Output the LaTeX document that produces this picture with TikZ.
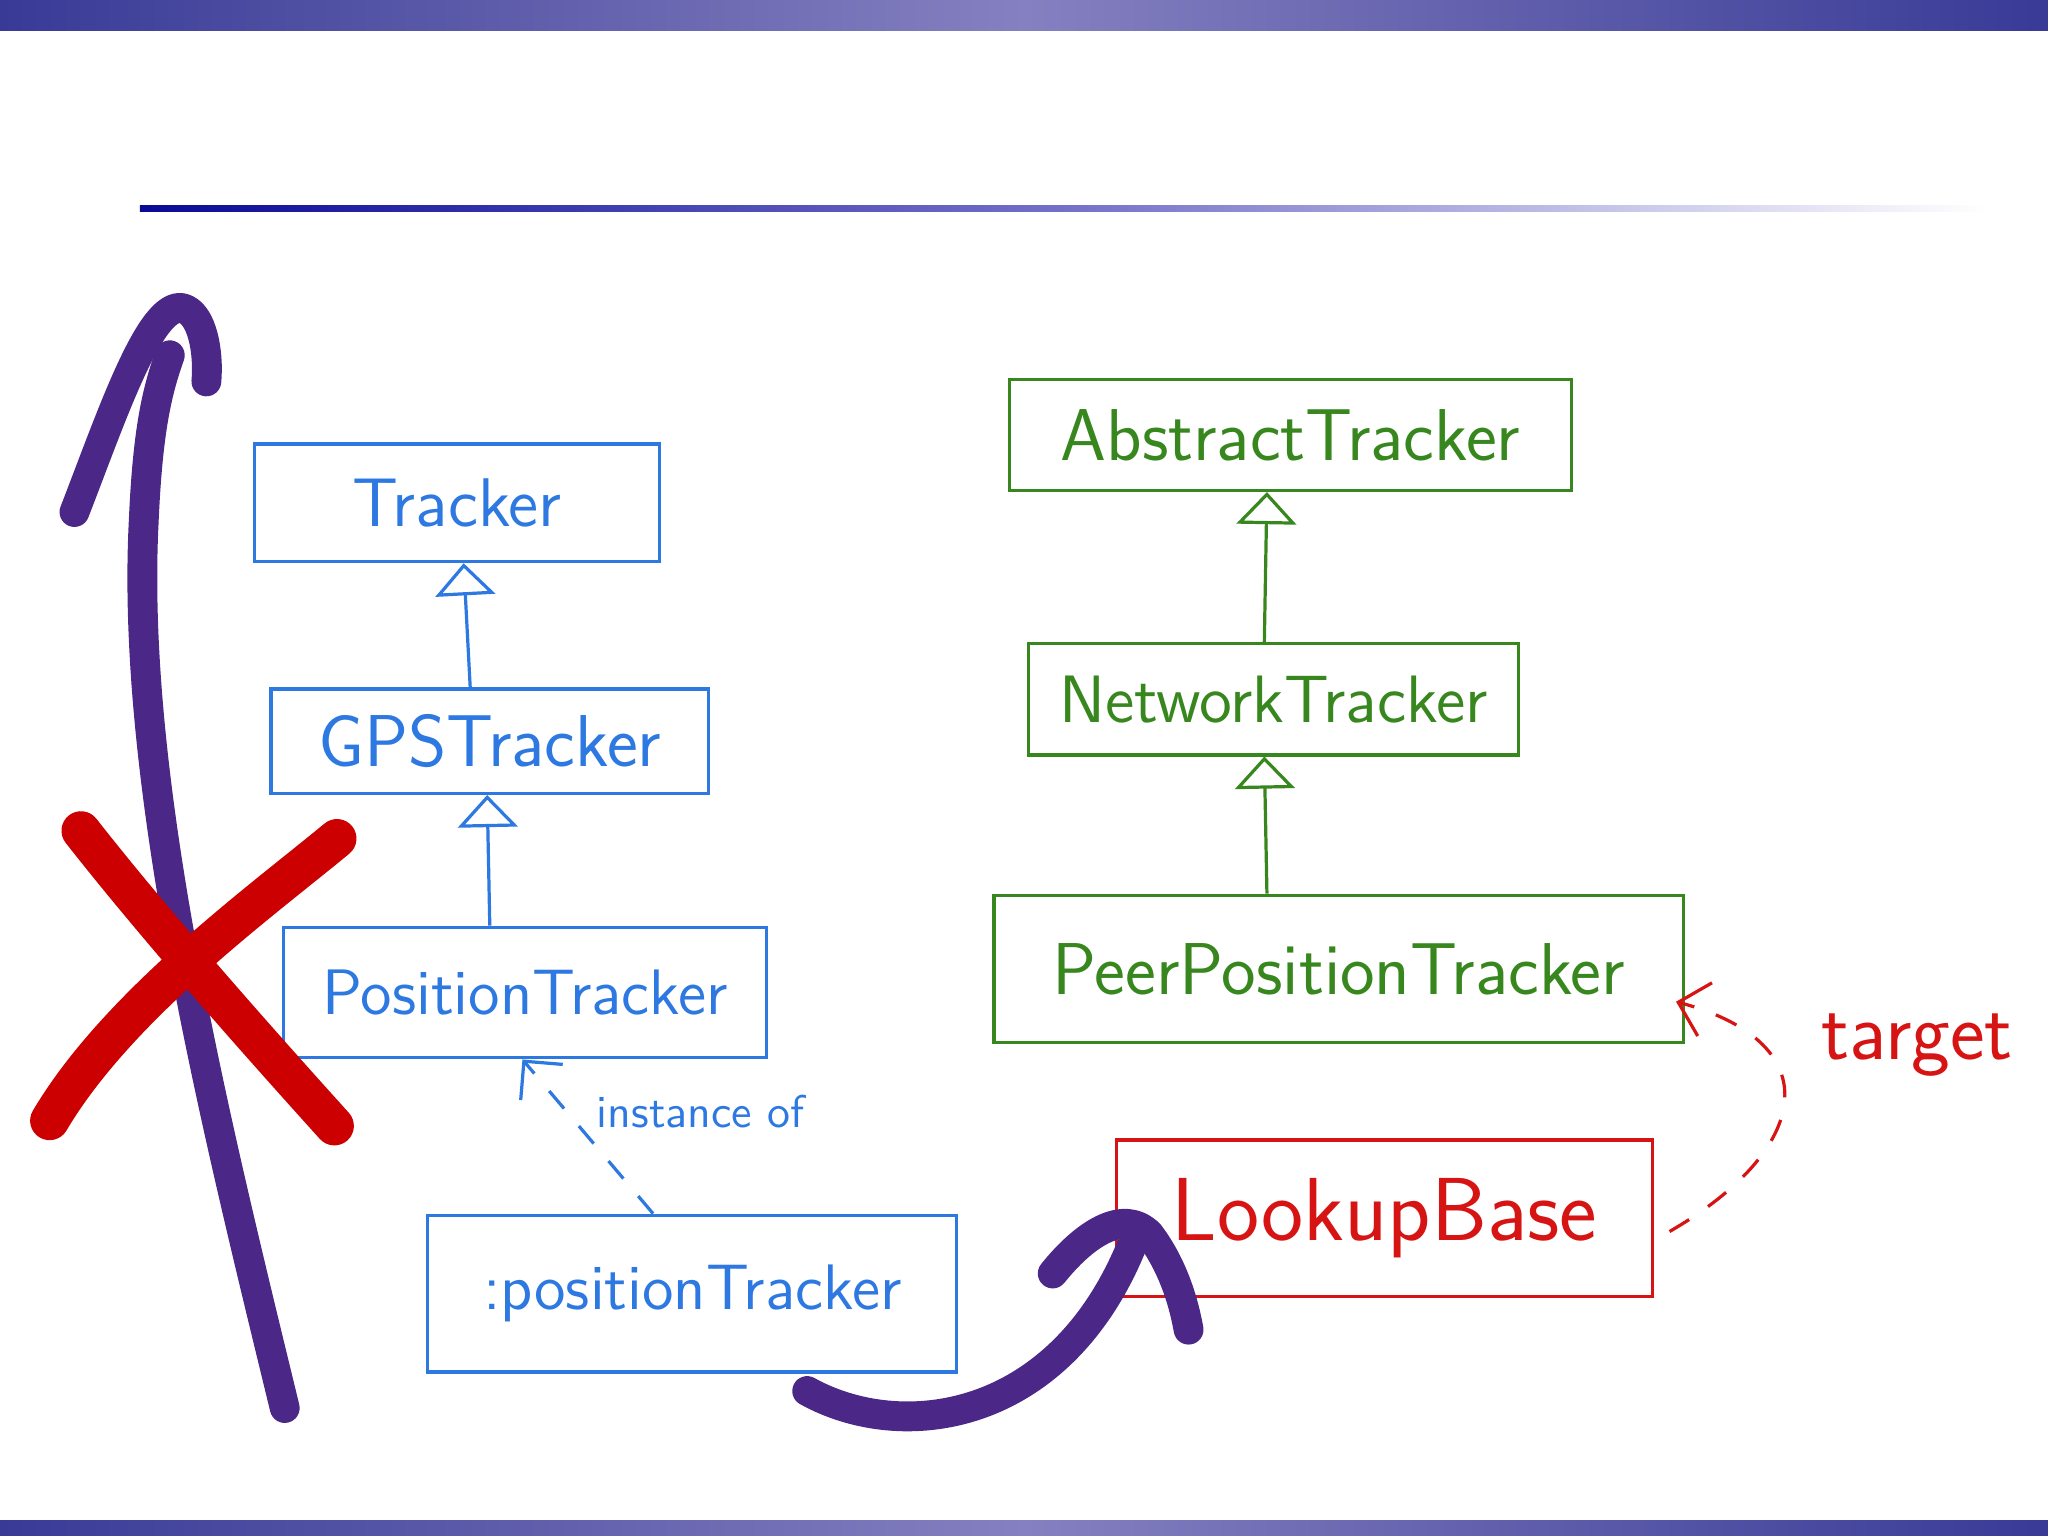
\documentclass[tikz,border=0pt]{standalone}
\usepackage{fontspec}
\usepackage{tikz}
\usetikzlibrary{arrows.meta,positioning}
\definecolor{penblue}{RGB}{45,120,225}
\definecolor{pengreen}{RGB}{55,135,30}
\definecolor{penred}{RGB}{215,20,20}
\definecolor{markred}{RGB}{204,0,0}
\definecolor{markpurple}{RGB}{75,40,135}
\definecolor{barblue}{RGB}{56,58,150}
\definecolor{barlight}{RGB}{133,128,192}
\definecolor{rulenavy}{RGB}{10,10,150}
\definecolor{rulemid}{RGB}{115,112,200}
\newcommand{\fsz}[1]{\sffamily\fontsize{#1}{#1}\selectfont}

\begin{document}
\begin{tikzpicture}[x=0.1mm,y=-0.1mm,node distance=10mm and 10mm,>=Stealth,
  every node/.style={font=\fsz{15}},
  cls/.style={draw,line width=0.7pt,inner sep=0pt},
  gen/.style={-{Triangle[open,length=7pt,width=13pt]},line width=0.7pt},
  dep/.style={-{Straight Barb[length=6pt,width=12pt]},line width=0.7pt,
    dash pattern=on 5pt off 5pt},
  marker/.style={line cap=round,line join=round,line width=6.5pt}]
\useasboundingbox (0,0) rectangle (1568,1176);
% slide frame
\shade[left color=barblue,right color=barblue,middle color=barlight] (0,0) rectangle (1568,23);
\shade[left color=barblue,right color=barblue,middle color=barlight] (0,1164) rectangle (1568,1176);
\shade[left color=rulenavy,right color=white,middle color=rulemid] (107,157) rectangle (1520,162);

% blue classes
\node[cls,penblue,minimum width=31mm,minimum height=9mm] (tracker) at (350,385) {Tracker};
\node[cls,penblue,minimum width=33.5mm,minimum height=8mm,font=\fsz{16},
  below=9.5mm of tracker,xshift=2.5mm] (gps) {GPSTracker};
\node[cls,penblue,minimum width=37mm,minimum height=10mm,font=\fsz{14},
  below=10mm of gps,xshift=2.7mm] (position) {PositionTracker};
\node[cls,penblue,minimum width=40.5mm,minimum height=12mm,font=\fsz{14},
  below=11.8mm of position,xshift=12.8mm] (instance) {:positionTracker};

% green classes
\node[cls,pengreen,minimum width=43mm,minimum height=8.5mm,font=\fsz{16}] (abstract) at (988,333) {AbstractTracker};
\node[cls,pengreen,minimum width=37.5mm,minimum height=8.5mm,font=\fsz{14.6},
  below=11.5mm of abstract,xshift=-1.3mm] (network) {NetworkTracker};
\node[cls,pengreen,minimum width=52.8mm,minimum height=11.3mm,font=\fsz{16},
  below=10.5mm of network,xshift=5mm] (peer) {PeerPositionTracker};

% red class
\node[cls,penred,minimum width=41mm,minimum height=12mm,font=\fsz{19.5},
  below=7.2mm of peer,xshift=3.5mm] (lookup) {LookupBase};

% inheritance
\draw[gen,penblue] ([xshift=-1.5mm]gps.north) -- ([xshift=0.5mm]tracker.south);
\draw[gen,penblue] ([xshift=-2.7mm]position.north) -- ([xshift=-0.2mm]gps.south);
\draw[gen,pengreen] ([xshift=-0.7mm]network.north) -- ([xshift=-1.8mm]abstract.south);
\draw[gen,pengreen] ([xshift=-5.5mm]peer.north) -- ([xshift=-0.7mm]network.south);

% instance of / target
\draw[dep,penblue] ([xshift=-3mm]instance.north) -- ([xshift=-0.2mm]position.south)
  node[pos=0.6,anchor=west,xshift=0.4mm,yshift=0.7mm,font=\fsz{10}] (instlbl) {instance of};
\draw[dep,penred] ([xshift=1.2mm,yshift=-1mm]lookup.east) to[out=30,in=-15,looseness=1.8]
  ([xshift=-0.7mm,yshift=-2.5mm]peer.east);
\node[penred,font=\fsz{18}] (targetlbl) at (1468,800) {target};

% purple strokes
\draw[marker,markpurple] (218,1078) .. controls (165,860) and (100,600) .. (110,400)
  .. controls (113,330) and (120,300) .. (130,272);
\draw[marker,markpurple] (57,392) .. controls (85,320) and (115,230) .. (140,236)
  .. controls (155,240) and (160,270) .. (158,292);
\draw[marker,markpurple] (618,1065) .. controls (690,1105) and (810,1090) .. (866,955);
\draw[marker,markpurple] (806,975) .. controls (830,945) and (860,925) .. (880,945)
  .. controls (895,965) and (905,990) .. (910,1018);

% red cross
\draw[marker,markred,line width=8.5pt] (62,636) .. controls (120,710) and (200,800) .. (256,862);
\draw[marker,markred,line width=8.5pt] (258,642) .. controls (200,690) and (90,770) .. (38,858);
\end{tikzpicture}
\end{document}
